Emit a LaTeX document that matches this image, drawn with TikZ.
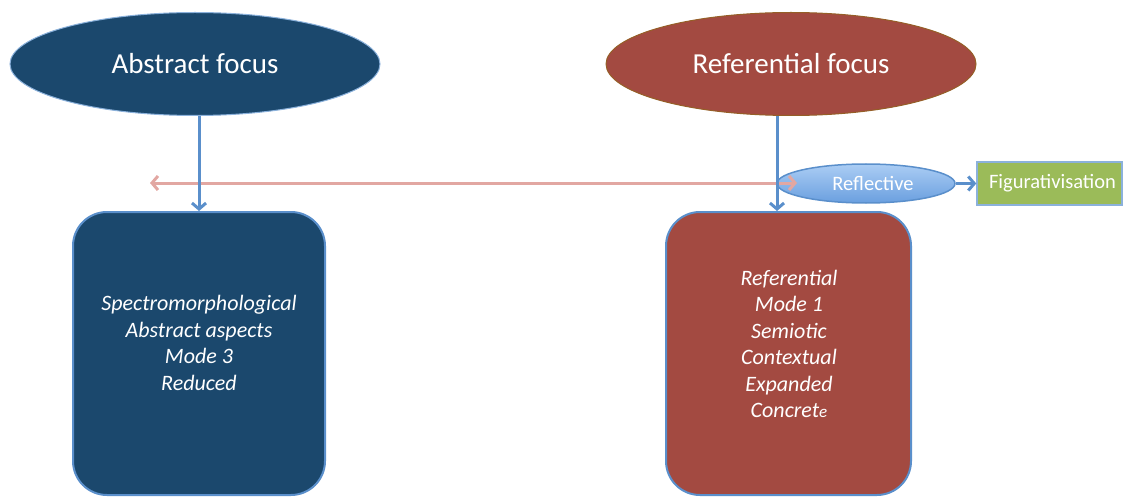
\documentclass[tikz,border=0pt]{standalone}
\usepackage{fontspec}
\setmainfont{Carlito}
\usetikzlibrary{shapes.geometric,arrows.meta}
\definecolor{focusblue}{HTML}{1B486D}
\definecolor{focusred}{HTML}{A34A41}
\definecolor{linkblue}{HTML}{5A8FCB}
\definecolor{linkpink}{HTML}{E2A7A2}
\definecolor{figgreen}{HTML}{9BBB59}
\definecolor{reflight}{HTML}{ABCDF4}
\definecolor{refdark}{HTML}{6A9FDF}
\begin{document}
\begin{tikzpicture}[x=1pt,y=-1pt]
             \useasboundingbox (0,0) rectangle (1131,497);
             \begin{scope}[every node/.style = {ellipse, draw, line width=1pt, text=white, inner sep=0pt, font=\fontsize{29}{34}\selectfont, minimum width=370pt, minimum height=103pt}]
                \node[fill=focusblue, draw=linkblue!70] (1) at (195,64) {\raisebox{-3pt}{Abstract focus}};
                \node[fill=focusred, draw=focusred!60!olive] (2) at (791,64) {\raisebox{-3pt}{Referential focus}};
            \end{scope}

            \begin{scope}[every node/.style = {rounded corners=34pt, draw=linkblue, line width=2pt, minimum height=283pt}]
                \node[fill=focusblue, minimum width=252pt] (3) at (199,353.5) {};
                \node[fill=focusred, minimum width=245pt] (4) at (788.5,353.5) {};
            \end{scope}

            \begin{scope}[every node/.style = {text=white, align=center, font=\fontsize{22}{26.5}\selectfont\itshape}]
                \node(7) at (199,343) {Spectromorphological\\Abstract aspects\\Mode 3\\Reduced};
                \node(8) at (789,344) {Referential\\Mode 1\\Semiotic\\Contextual\\ Expanded\\Concret{\fontsize{17}{17}\selectfont e}};
            \end{scope}

            \begin{scope}[every node/.style = {text=white, inner sep=0pt, font=\fontsize{20.5}{24}\selectfont}]
                \node[ellipse, draw=linkblue, line width=1.5pt, top color=reflight, bottom color=refdark, minimum width=178pt, minimum height=39pt] (5) at (866,183.5) {\hspace*{14pt}Reflective};
                \node[draw=linkblue!70, line width=1.5pt, fill=figgreen, minimum width=145pt, minimum height=43pt] (6) at (1049.5,183.5) {\hspace*{6pt}Figurativisation};
            \end{scope}

            \coordinate (a) at (150,183);
            \coordinate (b) at (797,183);
            \path(a) edge[draw, line width=3pt, linkpink, {Straight Barb[length=6pt,width=14pt]}-{Straight Barb[length=6pt,width=14pt]}] (b);

            \begin{scope}[every edge/.style = {draw, line width=3pt, linkblue, -{Straight Barb[length=6pt,width=14pt]}}]
                \path(1.south -| 3.north) edge[] (3.north);
                \path([xshift=-14pt]2.south) edge[] ([xshift=-11.5pt]4.north);
                \path(5.east) edge[] (6.west);
            \end{scope}
        \end{tikzpicture}
\end{document}
